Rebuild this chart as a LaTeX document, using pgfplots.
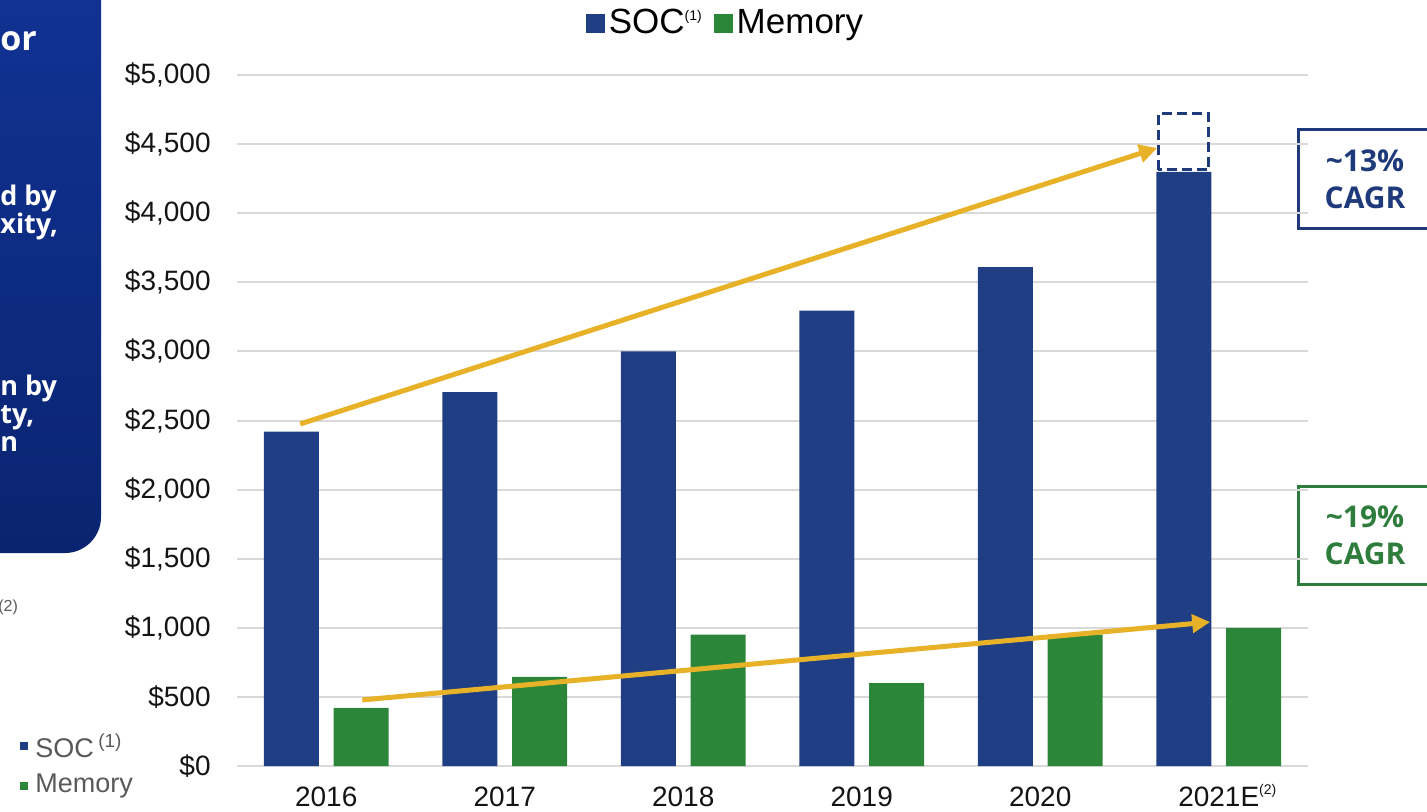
\documentclass[border=0pt]{standalone}
\usepackage{pgfplots}
\pgfplotsset{compat=1.18}
\usetikzlibrary{arrows.meta}
\usepackage{fontspec}
\setmainfont{Liberation Sans}
\newfontfamily\osans{Open Sans}
\definecolor{soc}{RGB}{31,62,132}
\definecolor{mem}{RGB}{44,134,58}
\definecolor{gold}{RGB}{232,178,40}
\definecolor{navybox}{RGB}{31,58,122}
\definecolor{greenbox}{RGB}{46,125,60}
\definecolor{panelTop}{RGB}{18,52,152}
\definecolor{panelBot}{RGB}{10,36,112}
\definecolor{txtgray}{RGB}{89,89,89}
\newcommand{\smallsup}[1]{\raisebox{0.75ex}{\fontsize{7}{8}\selectfont #1}}
\begin{document}
\begin{tikzpicture}
\useasboundingbox (0,0) rectangle (713.5pt,405.5pt);
\begin{scope}[x=0.5pt,y=-0.5pt,yshift=405.5pt]
\clip (0,0) rectangle (1427,811);
% left panel (cropped slide)
\shade[top color=panelTop,bottom color=panelBot,rounded corners=18pt] (-80,-80) rectangle (101,553);
\begin{scope}[every node/.style={anchor=base west,inner sep=0pt,text=white}]
\node[font=\osans\bfseries\fontsize{17}{20}\selectfont] at (0,50) {or};
\node[font=\osans\bfseries\fontsize{13.5}{16}\selectfont] at (0,205) {d by};
\node[font=\osans\bfseries\fontsize{13.5}{16}\selectfont] at (0,233) {xity,};
\node[font=\osans\bfseries\fontsize{13.5}{16}\selectfont] at (0,395) {n by};
\node[font=\osans\bfseries\fontsize{13.5}{16}\selectfont] at (0,423) {ty,};
\node[font=\osans\bfseries\fontsize{13.5}{16}\selectfont] at (0,451) {n};
\end{scope}
\node[anchor=west,inner sep=0pt,text=txtgray,font=\fontsize{8}{9}\selectfont] at (-2,607) {(2)};
\fill[soc] (20,742) rectangle (28,750);
\fill[mem] (20,782) rectangle (28,790);
\node[anchor=west,inner sep=0pt,text=txtgray,font=\fontsize{13.5}{15}\selectfont] at (35,746) {SOC\,\textsuperscript{(1)}};
\node[anchor=west,inner sep=0pt,text=txtgray,font=\fontsize{13.5}{15}\selectfont] at (35,786) {Memory};
% CAGR boxes
\draw[navybox,line width=1.5pt] (1298,129) rectangle (1460,228);
\node[text=navybox,font=\osans\bfseries\fontsize{15}{18.5}\selectfont,align=center,inner sep=0pt] at (1365,179) {\textasciitilde13\%\\CAGR};
\draw[greenbox,line width=1.5pt] (1298,486) rectangle (1460,584);
\node[text=greenbox,font=\osans\bfseries\fontsize{15}{18.5}\selectfont,align=center,inner sep=0pt] at (1365,535) {\textasciitilde19\%\\CAGR};
\end{scope}

\begin{axis}[
  at={(118.5pt,22.5pt)}, anchor=south west,
  scale only axis, width=535.5pt, height=345.5pt,
  xmin=-0.5, xmax=5.5, ymin=0, ymax=5000,
  axis line style={draw=none},
  major tick length=0pt,
  ymajorgrids, grid style={draw={rgb,255:red,217;green,217;blue,217},line width=1pt},
  xtick={0,1,2,3,4,5},
  xticklabels={2016,2017,2018,2019,2020,2021E\rlap{\smallsup{(2)}}},
  ytick={0,500,...,5000},
  yticklabels={\$0,\$500,\$1{,}000,\$1{,}500,\$2{,}000,\$2{,}500,\$3{,}000,\$3{,}500,\$4{,}000,\$4{,}500,\$5{,}000},
  tick label style={font=\fontsize{14}{16}\selectfont, text={rgb,255:red,20;green,20;blue,20}},
  yticklabel style={anchor=east, inner sep=0pt, xshift=-13pt},
  xticklabel style={anchor=base, inner sep=0pt, yshift=-20pt},
  legend style={at={(axis description cs:0.457,1.075)}, anchor=center, draw=none, fill=none,
    legend columns=2, font=\fontsize{17.5}{19}\selectfont, inner sep=0pt,
    /tikz/every even column/.append style={column sep=4pt}},
]
\addplot[ybar, bar width=0.308, bar shift=-0.195, fill=soc, draw=none,
  legend image code/.code={\fill[soc] (0pt,-4.75pt) rectangle (9.5pt,4.75pt);}]
  coordinates {(0,2420) (1,2705) (2,3000) (3,3295) (4,3610) (5,4300)};
\addlegendentry{SOC\smallsup{(1)}}
\addplot[ybar, bar width=0.308, bar shift=0.195, fill=mem, draw=none,
  legend image code/.code={\fill[mem] (0pt,-4.75pt) rectangle (9.5pt,4.75pt);}]
  coordinates {(0,420) (1,645) (2,950) (3,600) (4,950) (5,1000)};
\addlegendentry{Memory}
\draw[navybox, line width=1.5pt, dash pattern=on 5pt off 2.5pt]
  (axis cs:4.66,4313) rectangle (axis cs:4.945,4718);
\draw[gold, line width=2.5pt, -{Triangle[length=9pt,width=9pt]}]
  (axis cs:-0.146,2475) -- (axis cs:4.655,4472);
\draw[gold, line width=2.5pt, -{Triangle[length=9pt,width=9pt]}]
  (axis cs:0.202,478) -- (axis cs:4.952,1042);
\end{axis}
\end{tikzpicture}
\end{document}
